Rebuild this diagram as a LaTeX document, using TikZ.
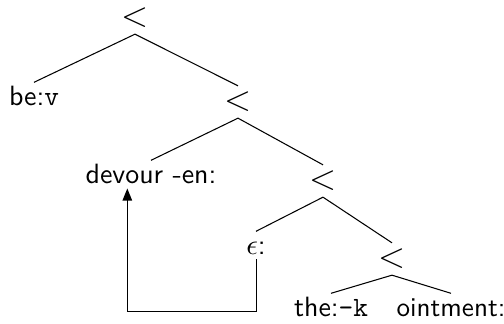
\documentclass[tikz,border=0pt]{standalone}
\usetikzlibrary{arrows.meta}
\begin{document}
\begin{tikzpicture}[x=0.38pt,y=-0.38pt,
  font=\sffamily\fontsize{10.6}{12.7}\selectfont,
  opnode/.style={inner sep=2.2pt,font=\sffamily\fontsize{13.5}{15}\selectfont},
  leaf/.style={anchor=base,inner sep=1.5pt,text height=7.3pt,text depth=0pt},
  edge/.style={draw,line width=0.4pt},
  move/.style={draw,line width=0.45pt,-{Triangle[length=4.6pt,width=3.6pt]}}]
\useasboundingbox (0,0) rectangle (504,324);
\node[opnode] (r1) at (135,18) {<};
\node[leaf] (bev) at (34,106) {be:\texttt{v}};
\node[opnode] (r2) at (238,102) {<};
\node[leaf] (dev) at (151,184) {devour -en:};
\node[opnode] (r3) at (323,181) {<};
\node[leaf] (eps) at (256,255) {$\epsilon$:};
\node[opnode] (r4) at (392,259) {<};
\node[leaf] (the) at (331,317) {the:\texttt{-k}};
\node[leaf,font=\sffamily\fontsize{10.3}{12.4}\selectfont] (oin) at (451,317) {ointment:};
\path[edge] (r1.south) -- (bev.north);
\path[edge] (r1.south) -- (r2.north);
\path[edge] (r2.south) -- (dev.north);
\path[edge] (r2.south) -- (r3.north);
\path[edge] (r3.south) -- (eps.north);
\path[edge] (r3.south) -- (r4.north);
\path[edge] (r4.south) -- (the.north);
\path[edge] (r4.south) -- (oin.north);
\path[move] ([xshift=0.3pt]eps.south) -- ++(0,52) -| ([xshift=-9pt]dev.south);
\end{tikzpicture}
\end{document}
